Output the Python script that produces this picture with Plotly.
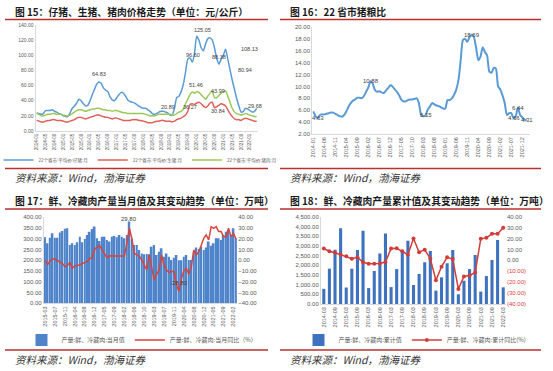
import plotly.graph_objects as go

W, H = 553, 371

# ---------------- data ----------------
# Fig 15: monthly prices 2014-01 .. 2022-04 (yuan/kg)
piglet = [24, 23, 22, 23, 27, 27, 27, 28, 26, 25, 23, 22,
          20, 19, 19, 24, 30, 33, 37, 42, 40, 36, 33, 34,
          40, 48, 55, 62, 64.83, 63, 57, 54, 52, 45, 41, 40,
          44, 48, 51, 50, 46, 41, 39, 38, 37, 35, 33, 31,
          30, 30, 28, 26, 23, 22, 23, 25, 26, 26, 25, 24,
          20.89, 21, 30, 44, 46, 52, 62, 78, 95, 96.60, 91, 102,
          125.05, 120, 110, 106, 115, 122, 123, 120, 110, 96, 88.38, 95,
          100, 108.13, 95, 80.94, 67, 55, 43, 33, 25, 26, 30, 29,
          27, 25, 26, 29.68]
hog = [14, 13, 12, 12, 13, 14, 14, 15, 15, 14, 14, 14,
       13, 12, 12, 13, 14, 15, 17, 18, 18, 17, 16, 17,
       18, 19, 20, 21, 21, 20, 19, 18, 18, 17, 16, 17,
       17, 16, 15, 14, 14, 14, 14, 15, 15, 15, 14, 14,
       13, 12, 11, 11, 11, 12, 13, 13, 14, 14, 13, 13,
       13, 12, 13, 15, 16, 17, 19, 21, 26, 35, 36, 35,
       37, 38, 36, 33, 31, 33, 37, 38, 30.84, 32, 34, 36,
       35, 33, 28, 23, 19, 16, 15, 15, 14, 16, 17, 16,
       15, 14, 13, 13]
pork = [23, 22, 20, 20, 21, 22, 22, 23, 23, 22, 22, 22,
        21, 20, 20, 21, 23, 25, 27, 28, 28, 27, 26, 27,
        28, 29, 29, 30, 30, 29, 28, 28, 27, 27, 26, 27,
        27, 26, 25, 24, 24, 23, 23, 23, 23, 23, 23, 23,
        23, 22, 21, 20, 20, 20, 21, 22, 22, 22, 22, 22,
        22, 21, 21, 23, 25, 26, 29, 36.27, 42, 48, 51.46, 50,
        52, 51, 48, 45, 42, 46, 50, 53, 43.99, 44, 47, 50,
        52, 53, 46, 38, 30, 25, 23, 22, 21, 22, 23, 22,
        21, 20, 19, 19]

# Fig 16: hog-grain ratio 2014-01 .. 2022-02
ratio = [5.8, 5.0, 4.63, 5.2, 5.3, 5.3, 5.4, 5.5, 5.6, 5.6, 5.4, 5.2,
         5.0, 4.9, 5.2, 5.8, 6.6, 7.2, 7.6, 7.8, 8.1, 8.1, 8.0, 8.4,
         9.1, 9.8, 10.88, 10.5, 9.4, 9.1, 9.2, 9.0, 8.9, 9.3, 9.7, 10.2,
         10.0, 9.5, 9.1, 8.5, 7.8, 7.5, 7.5, 7.7, 7.8, 7.8, 7.9, 8.0,
         7.2, 5.2, 5.0, 5.15, 6.1, 6.6, 7.2, 7.0, 6.8, 6.7, 6.5, 6.3,
         6.3, 7.7, 7.7, 8.0, 8.6, 9.5, 11.1, 14.4, 17.8, 18.0, 17.5, 18.3,
         18.69, 18.3, 16.5, 14.4, 15.0, 16.6, 15.8, 15.2, 12.5, 12.3, 13.1, 13.0,
         10.0, 9.5, 8.5, 7.2, 5.2, 5.5, 5.5, 4.66, 5.0, 6.44, 5.2, 4.8,
         4.4, 4.31]

# Fig 17: monthly output (10k t) and YoY (%), 2015-03 .. 2022-03 (no January)
monthly_out = [307, 279, 305, 326, 305, 305, 329, 336, 347, 349,
               271, 279, 271, 284, 310, 284, 299, 318, 333, 346, 357,
               302, 290, 310, 310, 295, 287, 310, 313, 307, 318, 310,
               302, 318, 380, 299, 271, 271, 248, 232, 228, 229, 228,
               263, 271, 225, 240, 256, 217, 232, 217, 201, 212, 225,
               200, 200, 217, 225, 201, 201, 240, 259, 253, 263, 248,
               259, 287, 268, 279, 302, 302, 295, 318, 333, 341, 318,
               349, 302]
monthly_yoy = [0.3, -4.3, -0.6, 1.2, 1.2, 0.0, -1.2, -3.0, -5.9, -5.0,
               -1.9, -7.4, -5.0, -4.6, -4.3, -3.0, -1.9, -1.2, 1.9, 1.9, 10.5,
               11.8, 13.7, 9.6, 6.5, 2.5, 4.3, 4.0, 4.0, 4.0, 4.0, 4.0,
               4.0, 15.8, 29.80, 20.5, 6.5, 5.0, 4.0, 0.3, -4.3, -9.0, 5.0,
               -7.4, -18.3, -13.0, -9.0, 5.0, -4.3, -9.0, -11.2, -10.5, -10.5,
               -22.9, -28.80, -16.7, -9.9, -7.4, -13.0, -5.9, 9.6, 5.0, 8.0,
               14.0, 20.5, 23.6, 18.9, 31.3, 29.8, 31.3, 26.7, 26.7, 22.0,
               22.0, 29.8, 22.0, 25.0, 20.0]

# Fig 18: cumulative output (10k t) and cumulative YoY (%), quarterly 2014-03 .. 2022-03
cum_out = [780, 1820, 2800, 3900, 850, 1820, 2780, 3770, 820, 1700, 2600, 3630,
           870, 1800, 2700, 3265, 980, 1550, 2150, 2730, 690, 1375, 2100, 2780,
           500, 1200, 1800, 2525, 640, 1440, 2270, 3300, 860]
cum_yoy = [10.8, 8.3, 7.0, 5.2, 3.7, 1.5, 2.8, -1.8, -3.1, -3.1, -2.8, -1.5,
           10.8, 11.1, 8.3, 5.2, 20.0, 7.4, 9.8, 1.5, -18.2, -5.8, 2.8, 1.2,
           -26.2, -14.8, -13.8, -11.1, 19.7, 20.6, 24.3, 24.3, 29.8]


def month_labels(y, m, n, step=1, skip_jan=False):
    out = []
    while len(out) < n:
        if not (skip_jan and m == 1):
            out.append(f"{y}-{m:02d}")
        m += step
        while m > 12:
            m -= 12
            y += 1
    return out


x15 = month_labels(2014, 1, len(piglet))
x16 = month_labels(2014, 1, len(ratio))
x17 = month_labels(2015, 3, len(monthly_out), skip_jan=True)
x18 = month_labels(2014, 3, len(cum_out), step=3)

BLUE = "#5B9BD5"
RED = "#E0605A"
GREEN = "#9CC85A"
DARKRED = "#B8312F"
TICK = "#595959"
CJK = "Noto Sans CJK SC"

fig = go.Figure()

# Fig 15 traces
fig.add_trace(go.Scatter(x=x15, y=piglet, name="22个省市:平均价:仔猪:月", mode="lines",
                         line=dict(color=BLUE, width=1.5, shape="spline", smoothing=0.6),
                         xaxis="x", yaxis="y", legend="legend"))
fig.add_trace(go.Scatter(x=x15, y=hog, name="22个省市:平均价:生猪:月", mode="lines",
                         line=dict(color=RED, width=1.5, shape="spline", smoothing=0.6),
                         xaxis="x", yaxis="y", legend="legend"))
fig.add_trace(go.Scatter(x=x15, y=pork, name="22个省市:平均价:猪肉:月", mode="lines",
                         line=dict(color=GREEN, width=1.5, shape="spline", smoothing=0.6),
                         xaxis="x", yaxis="y", legend="legend"))
# Fig 16
fig.add_trace(go.Scatter(x=x16, y=ratio, mode="lines", showlegend=False,
                         line=dict(color=BLUE, width=2, shape="spline", smoothing=0.6),
                         xaxis="x2", yaxis="y2"))
# Fig 17
fig.add_trace(go.Bar(x=x17, y=monthly_out, name="产量:鲜、冷藏肉:当月值",
                     marker=dict(color="#4F84CA", line=dict(width=0)), width=0.72,
                     xaxis="x3", yaxis="y3", legend="legend2"))
fig.add_trace(go.Scatter(x=x17, y=monthly_yoy, name="产量:鲜、冷藏肉:当月同比（%）", mode="lines",
                         line=dict(color="#D9433D", width=1.5),
                         xaxis="x3", yaxis="y4", legend="legend2"))
# Fig 18
fig.add_trace(go.Bar(x=x18, y=cum_out, name="产量:鲜、冷藏肉:累计值",
                     marker=dict(color="#3F72BE", line=dict(width=0)), width=0.55,
                     xaxis="x4", yaxis="y5", legend="legend3"))
fig.add_trace(go.Scatter(x=x18, y=cum_yoy, name="产量:鲜、冷藏肉:累计同比(%)", mode="lines+markers",
                         line=dict(color="#D13E3A", width=1.5), marker=dict(size=4, color="#D13E3A"),
                         xaxis="x4", yaxis="y6", legend="legend3"))


def px_x(px):
    return px / W


def px_y(py):
    return 1 - py / H


tf = dict(family="Liberation Sans", size=5, color=TICK)
common_x = dict(type="category", showgrid=False, zeroline=False, ticks="",
                tickangle=-90, showline=True, linecolor="#D9D9D9", linewidth=1, automargin=False)
common_y = dict(showgrid=False, zeroline=False, ticks="", showline=True,
                linecolor="#D9D9D9", linewidth=1, tickformat=".2f", automargin=False)

neg_red = [-40, -30, -20, -10, 0, 10, 20, 30, 40]
neg_txt = [("<span style='color:#E04040'>(%.2f)</span>" % abs(v)) if v < 0 else ("%.2f" % v) for v in neg_red]

fig.update_layout(
    width=W, height=H, autosize=False,
    margin=dict(l=0, r=0, t=0, b=0, autoexpand=False),
    paper_bgcolor="white", plot_bgcolor="white",
    font=dict(family=CJK, color="#333333"),
    showlegend=True,
    xaxis=dict(common_x, domain=[px_x(35.6), px_x(257.8)], anchor="y", range=[-0.5, 99.5],
               tickvals=x15[::4], tickfont=dict(tf, size=4.5)),
    yaxis=dict(common_y, domain=[px_y(131), px_y(25)], anchor="x", range=[0, 140], dtick=20,
               tickfont=dict(tf, size=5)),
    xaxis2=dict(common_x, domain=[px_x(312.2), px_x(530)], anchor="y2", range=[-0.5, 98.5],
                tickvals=x16[::5], tickfont=dict(tf, size=5.5)),
    yaxis2=dict(common_y, domain=[px_y(134), px_y(27)], anchor="x2", range=[2, 20], dtick=2,
                tickfont=dict(tf, size=6)),
    xaxis3=dict(common_x, domain=[px_x(43.8), px_x(237.2)], anchor="y3", range=[-0.5, len(x17) - 0.5],
                tickvals=x17[::4], tickfont=dict(tf, size=5.5)),
    yaxis3=dict(common_y, domain=[px_y(303.3), px_y(217.3)], anchor="x3", range=[0, 400], dtick=50,
                tickfont=dict(tf, size=6)),
    yaxis4=dict(common_y, overlaying="y3", side="right", anchor="x3", range=[-40, 40], dtick=10,
                showline=False, tickfont=dict(tf, size=6)),
    xaxis4=dict(common_x, domain=[px_x(321), px_x(506)], anchor="y5", range=[-0.5, len(x18) - 0.5],
                tickvals=x18[::2], tickfont=dict(tf, size=5.5)),
    yaxis5=dict(common_y, domain=[px_y(304), px_y(216.7)], anchor="x4", range=[0, 4500], dtick=500,
                tickformat=",.2f", tickfont=dict(tf, size=6)),
    yaxis6=dict(common_y, overlaying="y5", side="right", anchor="x4", range=[-40, 40],
                tickvals=neg_red, ticktext=neg_txt, showline=False, tickfont=dict(tf, size=6)),
    legend=dict(orientation="h", x=px_x(140), xanchor="center", y=px_y(160), yanchor="middle",
                font=dict(family=CJK, size=4.5, color=TICK), bgcolor="rgba(0,0,0,0)",
                itemwidth=30, tracegroupgap=0),
    legend2=dict(orientation="h", x=px_x(142), xanchor="center", y=px_y(340), yanchor="middle",
                 font=dict(family=CJK, size=6, color=TICK), bgcolor="rgba(0,0,0,0)",
                 itemwidth=30),
    legend3=dict(orientation="h", x=px_x(415), xanchor="center", y=px_y(340), yanchor="middle",
                 font=dict(family=CJK, size=6, color=TICK), bgcolor="rgba(0,0,0,0)",
                 itemwidth=30),
)

ann = []
# titles & sources
titles = [
    (13, 12, "图 15：仔猪、生猪、猪肉价格走势（单位：元/公斤）"),
    (288, 12, "图 16：22 省市猪粮比"),
    (13, 201, "图 17：鲜、冷藏肉产量当月值及其变动趋势（单位：万吨）"),
    (288, 201, "图 18：鲜、冷藏肉产量累计值及其变动趋势（单位：万吨）"),
]
for x, y, t in titles:
    ann.append(dict(x=px_x(x), y=px_y(y), xref="paper", yref="paper", xanchor="left", yanchor="middle",
                    text="<b>" + t + "</b>", showarrow=False, font=dict(family=CJK, size=9.8, color="#1a1a1a")))
for x, y in [(13, 177), (288, 177), (13, 359), (288, 359)]:
    ann.append(dict(x=px_x(x), y=px_y(y), xref="paper", yref="paper", xanchor="left", yanchor="middle",
                    text="<i>资料来源：Wind，渤海证券</i>", showarrow=False,
                    font=dict(family=CJK, size=10.5, color="#333333")))

lab = dict(showarrow=False, font=dict(family="Liberation Sans", size=5.5, color="#404040"))


def p15(series, idx, xs=0, ys=0, ax="x", ay="y"):
    v = series[idx]
    ann.append(dict(lab, x=x15[idx], y=v, xref=ax, yref=ay, text="%.2f" % v, xshift=xs, yshift=ys))


p15(piglet, 28, 0, 8)
p15(piglet, 69, 3, 3)
p15(piglet, 72, 6, 6)
p15(piglet, 82, 0, 7)
p15(piglet, 85, 24, 0)
p15(piglet, 87, 15, 0)
p15(piglet, 99, -2, 3)
p15(piglet, 60, -2, 8)
p15(pork, 70, 4, 7)
p15(pork, 67, 4, -3)
p15(pork, 80, 4, 7)
p15(hog, 80, 4, -3)

for idx in [2, 26, 51, 72, 91, 93, 97]:
    v = ratio[idx]
    ann.append(dict(lab, x=x16[idx], y=v, xref="x2", yref="y2", text="%.2f" % v,
                    font=dict(family="Liberation Sans", size=6, color="#404040")))

for idx, ys in [(34, 9), (54, 8)]:
    v = monthly_yoy[idx]
    ann.append(dict(lab, x=x17[idx], y=v, xref="x3", yref="y4", text="%.2f" % v, yshift=ys,
                    font=dict(family="Liberation Sans", size=6, color="#404040")))

fig.update_layout(annotations=ann)

# red rules
shapes = []
for (x0, x1) in [(5, 268), (280, 541)]:
    for y in [19.5, 168.5, 209, 350]:
        shapes.append(dict(type="line", xref="paper", yref="paper", x0=px_x(x0), x1=px_x(x1),
                           y0=px_y(y), y1=px_y(y), line=dict(color=DARKRED, width=1.5)))
fig.update_layout(shapes=shapes)

fig.write_html("out.html", config={"displayModeBar": False},
               post_script="document.body.style.margin='0';document.body.style.overflow='hidden';")
